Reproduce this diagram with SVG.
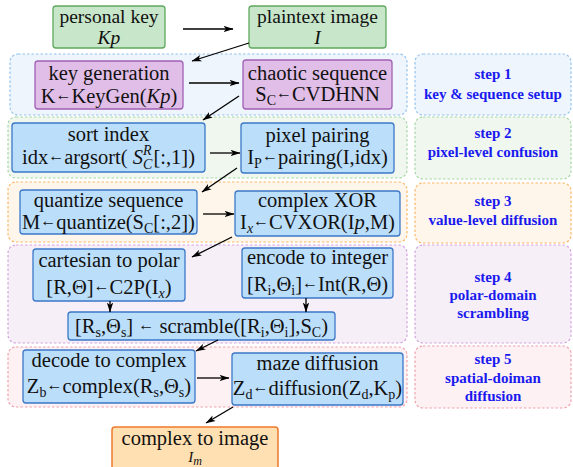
<svg xmlns="http://www.w3.org/2000/svg" width="573" height="467" viewBox="0 0 573 467">
<defs>
<marker id="ah" markerWidth="10" markerHeight="7" refX="9.5" refY="3.5" orient="auto" markerUnits="userSpaceOnUse">
<path d="M0,0.3 L10,3.5 L0,6.7 L2.5,3.5 z" fill="#000"/>
</marker>
<style>
.t{font-family:"Liberation Serif","Times New Roman",serif;font-size:20.5px;fill:#111;text-anchor:middle}
.tt{font-size:19.5px}
.s{font-family:"Liberation Serif","Times New Roman",serif;font-size:15px;font-weight:bold;fill:#1a1aee;text-anchor:middle}
.g{fill:#c8e6c9;stroke:#5fa85f;stroke-width:1.3}
.p{fill:#e1bee7;stroke:#a060b4;stroke-width:1.3}
.b{fill:#bbdefb;stroke:#3b78c8;stroke-width:1.3}
.o{fill:#ffe0b2;stroke:#ef7a2e;stroke-width:1.5}
.c{stroke-width:1.2;stroke-dasharray:2.5,2}
.c1{fill:#eef5fd;stroke:#94c4ef}
.c2{fill:#f0f7ef;stroke:#a8d6a8}
.c3{fill:#fff6eb;stroke:#fbb868}
.c4{fill:#f6eff8;stroke:#d3a6dd}
.c5{fill:#fdf1f3;stroke:#efa3ab}
.i{font-style:italic}
.sub{font-size:14px}
.a{font-size:16px;baseline-shift:3px}
#connectors line{stroke:#000;stroke-width:1.3;marker-end:url(#ah)}
</style>
</defs>

<g id="containers">
<rect class="c c1" x="10" y="54" width="397" height="61" rx="8"/>
<rect class="c c2" x="8" y="117" width="399" height="61" rx="8"/>
<rect class="c c3" x="8" y="182" width="399" height="60" rx="8"/>
<rect class="c c4" x="8" y="245" width="399" height="98" rx="8"/>
<rect class="c c5" x="8" y="347" width="399" height="60" rx="8"/>
</g>

<g id="step1"><rect class="c c1" x="415" y="54" width="156" height="61" rx="8"/>
<text class="s" x="493" y="79">step 1</text><text class="s" x="493" y="99">key &amp; sequence setup</text></g>
<g id="step2"><rect class="c c2" x="415" y="117" width="156" height="62" rx="8"/>
<text class="s" x="493" y="138">step 2</text><text class="s" x="493" y="157">pixel-level confusion</text></g>
<g id="step3"><rect class="c c3" x="415" y="183" width="156" height="60" rx="8"/>
<text class="s" x="493" y="206">step 3</text><text class="s" x="493" y="225">value-level diffusion</text></g>
<g id="step4"><rect class="c c4" x="415" y="245" width="156" height="98" rx="8"/>
<text class="s" x="493" y="282">step 4</text><text class="s" x="493" y="300">polar-domain</text><text class="s" x="493" y="318">scrambling</text></g>
<g id="step5"><rect class="c c5" x="415" y="346" width="156" height="62" rx="8"/>
<text class="s" x="493" y="364">step 5</text><text class="s" x="493" y="383">spatial-doiman</text><text class="s" x="493" y="401">diffusion</text></g>

<g id="personal-key"><rect class="g" x="53" y="6" width="112" height="42" rx="3"/>
<text class="t tt" x="109" y="23">personal key</text><text class="t tt i" x="109" y="44">Kp</text></g>

<g id="plaintext-image"><rect class="g" x="249" y="6" width="137" height="42" rx="3"/>
<text class="t tt" x="317.5" y="23">plaintext image</text><text class="t tt i" x="317.5" y="44">I</text></g>

<g id="key-generation"><rect class="p" x="35" y="61" width="148" height="48" rx="3"/>
<text class="t" x="109" y="80">key generation</text><text class="t" x="109" y="103">K<tspan class="a">←</tspan>KeyGen(<tspan class="i">Kp</tspan>)</text></g>

<g id="chaotic-sequence"><rect class="p" x="243" y="60" width="149" height="49" rx="3"/>
<text class="t" x="317.5" y="80">chaotic sequence</text><text class="t" x="317.5" y="101">S<tspan class="sub" dy="4">C</tspan><tspan class="a" dy="-4">←</tspan>CVDHNN</text></g>

<g id="sort-index"><rect class="b" x="12" y="123" width="193" height="49" rx="3"/>
<text class="t" x="108.5" y="141">sort index</text>
<text class="t" x="108.5" y="164">idx<tspan class="a">←</tspan>argsort( <tspan class="i">S</tspan><tspan class="i sub" dy="-9">R</tspan><tspan class="i sub" dx="-8.5" dy="14">C</tspan><tspan dx="1" dy="-5">[:,1])</tspan></text></g>

<g id="pixel-pairing"><rect class="b" x="241" y="123" width="153" height="50" rx="3"/>
<text class="t" x="317.5" y="142">pixel pairing</text><text class="t" x="317.5" y="164">I<tspan class="sub" dy="4">P</tspan><tspan class="a" dy="-4">←</tspan>pairing(I,idx)</text></g>

<g id="quantize-sequence"><rect class="b" x="20" y="190" width="177" height="44" rx="3"/>
<text class="t" x="108.5" y="207">quantize sequence</text><text class="t" x="108.5" y="229">M<tspan class="a">←</tspan>quantize(S<tspan class="sub" dy="4">C</tspan><tspan dy="-4">[:,2])</tspan></text></g>

<g id="complex-xor"><rect class="b" x="235" y="191" width="165" height="45" rx="3"/>
<text class="t" x="317.5" y="207">complex XOR</text><text class="t" x="317.5" y="229">I<tspan class="sub i" dy="4">x</tspan><tspan class="a" dy="-4">←</tspan>CVXOR(I<tspan class="i">p</tspan>,M)</text></g>

<g id="cartesian-to-polar"><rect class="b" x="33" y="249" width="152" height="52" rx="3"/>
<text class="t" x="109" y="267">cartesian to polar</text><text class="t" x="109" y="294">[R,Θ]<tspan class="a">←</tspan>C2P(I<tspan class="sub i" dy="4">x</tspan><tspan dy="-4">)</tspan></text></g>

<g id="encode-to-integer"><rect class="b" x="242" y="248" width="151" height="50" rx="3"/>
<text class="t" x="317.5" y="264">encode to integer</text><text class="t" x="317.5" y="291">[R<tspan class="sub" dy="4">i</tspan><tspan dy="-4">,Θ</tspan><tspan class="sub" dy="4">i</tspan><tspan dy="-4">]</tspan><tspan class="a">←</tspan>Int(R,Θ)</text></g>

<g id="scramble"><rect class="b" x="68" y="312" width="267" height="28" rx="3"/>
<text class="t" x="201.5" y="333">[R<tspan class="sub" dy="4">s</tspan><tspan dy="-4">,Θ</tspan><tspan class="sub" dy="4">s</tspan><tspan dy="-4">] </tspan><tspan class="a">←</tspan> scramble([R<tspan class="sub" dy="4">i</tspan><tspan dy="-4">,Θ</tspan><tspan class="sub" dy="4">i</tspan><tspan dy="-4">],S</tspan><tspan class="sub" dy="4">C</tspan><tspan dy="-4">)</tspan></text></g>

<g id="decode-to-complex"><rect class="b" x="23" y="350" width="172" height="53" rx="3"/>
<text class="t" x="109" y="367">decode to complex</text><text class="t" x="109" y="393">Z<tspan class="sub" dy="4">b</tspan><tspan class="a" dy="-4">←</tspan>complex(R<tspan class="sub" dy="4">s</tspan><tspan dy="-4">,Θ</tspan><tspan class="sub" dy="4">s</tspan><tspan dy="-4">)</tspan></text></g>

<g id="maze-diffusion"><rect class="b" x="232" y="353" width="171" height="52" rx="3"/>
<text class="t" x="317.5" y="370">maze diffusion</text><text class="t" x="317.5" y="395">Z<tspan class="sub" dy="4">d</tspan><tspan class="a" dy="-4">←</tspan>diffusion(Z<tspan class="sub" dy="4">d</tspan><tspan dy="-4">,K</tspan><tspan class="sub" dy="4">p</tspan><tspan dy="-4">)</tspan></text></g>

<g id="complex-to-image"><rect class="o" x="112" y="427" width="166" height="52" rx="3"/>
<text class="t" x="195" y="445">complex to image</text><text class="t i" x="195" y="462" style="font-size:15px">I<tspan dy="3" style="font-size:12px">m</tspan></text></g>

<g id="connectors">
<line x1="183" y1="29" x2="233" y2="29"/>
<line x1="249" y1="43" x2="192" y2="61"/>
<line x1="189" y1="83" x2="239" y2="83"/>
<line x1="239" y1="96" x2="203" y2="120"/>
<line x1="210" y1="153" x2="240" y2="153"/>
<line x1="237" y1="168" x2="202" y2="192"/>
<line x1="203" y1="214" x2="234" y2="214"/>
<line x1="232" y1="237" x2="192" y2="257"/>
<line x1="110" y1="301" x2="110" y2="312"/>
<line x1="306" y1="298" x2="306" y2="312"/>
<line x1="218" y1="340" x2="196" y2="351"/>
<line x1="197" y1="378" x2="229" y2="378"/>
<line x1="233" y1="407" x2="206" y2="423"/>
</g>
</svg>
